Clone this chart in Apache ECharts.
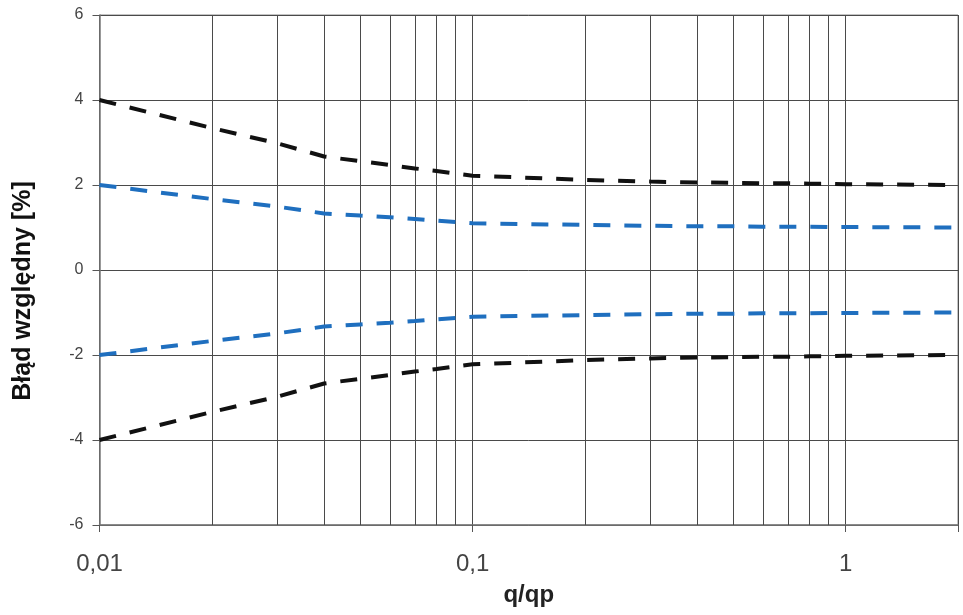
<!DOCTYPE html>
<html>
<head>
<meta charset="utf-8">
<script src="https://cdn.jsdelivr.net/npm/echarts@6/dist/echarts.min.js"></script>
<style>html,body{margin:0;padding:0;background:#fff}#c{width:963px;height:615px}</style>
</head>
<body>
<div id="c"></div>
<script>
var qValues = [0.01,0.02,0.03,0.04,0.05,0.06,0.07,0.08,0.09,0.1,0.2,0.3,0.4,0.5,0.6,0.7,0.8,0.9,1,2];
var outerUpper = [4,3.34,2.98,2.67,2.56,2.47,2.39,2.33,2.27,2.22,2.12,2.08,2.06,2.05,2.04,2.04,2.03,2.03,2.02,2.0];
var innerUpper = [2,1.67,1.49,1.33,1.28,1.24,1.20,1.16,1.13,1.10,1.06,1.04,1.03,1.03,1.02,1.02,1.02,1.01,1.01,1.0];
var innerLower = [-2,-1.67,-1.49,-1.33,-1.28,-1.24,-1.20,-1.16,-1.13,-1.10,-1.06,-1.04,-1.03,-1.03,-1.02,-1.02,-1.02,-1.01,-1.01,-1.0];
var outerLower = [-4,-3.34,-2.98,-2.67,-2.56,-2.47,-2.39,-2.33,-2.27,-2.22,-2.12,-2.08,-2.06,-2.05,-2.04,-2.04,-2.03,-2.03,-2.02,-2.0];
var minorGridQ = [0.02,0.03,0.04,0.05,0.06,0.07,0.08,0.09,0.2,0.3,0.4,0.5,0.6,0.7,0.8,0.9];
var yTicks = [-6,-4,-2,0,2,4,6];

function pairs(vals){ return qValues.map(function(q,i){ return [q, vals[i]]; }); }
var dash = [17,14];
function lineSeries(vals, color){
  return {type:'line', data:pairs(vals), showSymbol:false, symbol:'none', z:5,
    lineStyle:{color:color, width:4, type:dash}, silent:true, animation:false};
}
var gridColor = '#4a4a4a';
var chart = echarts.init(document.getElementById('c'), null, {renderer:'canvas'});
chart.setOption({
  animation:false,
  backgroundColor:'#fff',
  grid:{left:99.5, right:5, top:15, bottom:90, show:true, borderColor:'#888', borderWidth:1, containLabel:false},
  xAxis:{
    type:'log', min:0.01, max:2, logBase:10,
    name:'q/qp', nameLocation:'middle', nameGap:58,
    nameTextStyle:{fontFamily:'Liberation Sans, Arial', fontWeight:'bold', fontSize:24, color:'#222'},
    axisLine:{show:true, onZero:false, lineStyle:{color:'#777', width:1.5}},
    axisTick:{show:true, length:7, lineStyle:{color:'#555'}},
    splitLine:{show:true, lineStyle:{color:gridColor, width:1}},
    axisLabel:{margin:27, fontFamily:'Liberation Sans, Arial', fontSize:24, color:'#444',
      formatter:function(v){
        var e = Math.log10(v); var r = Math.round(e);
        if (Math.abs(e-r) > 1e-6) return '';
        if (r >= 0) return String(Math.pow(10,r));
        return '0,' + '0'.repeat(-r-1) + '1';
      }}
  },
  yAxis:{
    type:'value', min:yTicks[0], max:yTicks[yTicks.length-1], interval:2,
    name:'Błąd względny [%]', nameLocation:'middle', nameGap:64,
    nameTextStyle:{fontFamily:'Liberation Sans, Arial', fontWeight:'bold', fontSize:25, color:'#111', padding:[0,42,0,0]},
    axisLine:{show:true, lineStyle:{color:'#777', width:1.5}},
    axisTick:{show:true, length:7, lineStyle:{color:'#555'}},
    splitLine:{show:true, lineStyle:{color:gridColor, width:1}},
    axisLabel:{margin:16, fontFamily:'Liberation Sans, Arial', fontSize:16, color:'#444'}
  },
  series:[
    {type:'line', data:[], z:1, silent:true,
      markLine:{silent:true, symbol:['none','none'], animation:false,
        label:{show:false},
        lineStyle:{color:gridColor, width:1, type:'solid'},
        data: minorGridQ.map(function(q){ return {xAxis:q}; })}},
    lineSeries(outerUpper, '#111'),
    lineSeries(innerUpper, '#1f6fbf'),
    lineSeries(innerLower, '#1f6fbf'),
    lineSeries(outerLower, '#111')
  ]
});
</script>
</body>
</html>
